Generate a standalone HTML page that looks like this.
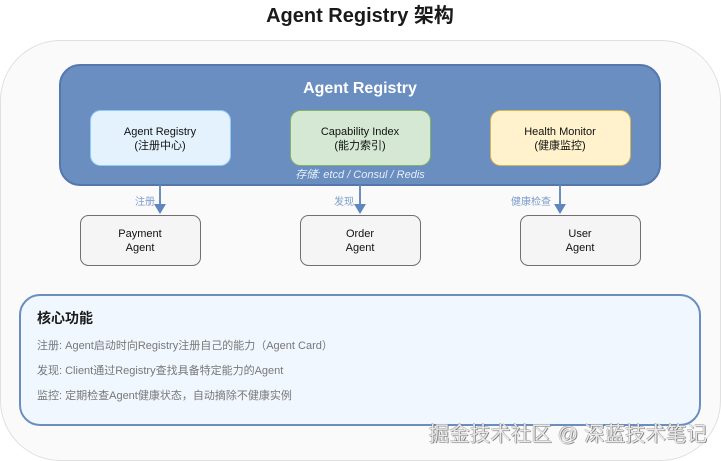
<!DOCTYPE html>
<html lang="zh">
<head>
<meta charset="utf-8">
<style>
html,body{margin:0;padding:0;background:#fff;width:721px;height:461px;overflow:hidden}
body{position:relative;font-family:"Liberation Sans","Noto Sans CJK SC",sans-serif}
svg{display:block;font-family:"Liberation Sans","Noto Sans CJK SC",sans-serif;filter:blur(0.3px)}
#wm{position:absolute;right:14px;top:421px;font-size:20.5px;line-height:27px;white-space:nowrap;color:#e9e9e9;text-shadow:0.7px 0.7px 0.6px #666,-0.4px -0.4px 0.4px #999}
</style>
</head>
<body>
<svg width="721" height="461" viewBox="0 0 721 461" xmlns="http://www.w3.org/2000/svg">
<rect width="721" height="461" fill="#fff"/>
<text x="360" y="22" font-size="20" font-weight="bold" text-anchor="middle" fill="#1a1a1a">Agent Registry 架构</text>
<rect x="0.5" y="40.5" width="720" height="420" rx="60" ry="60" fill="#fafafa" stroke="#e0e0e0" stroke-width="1"/>

<rect x="60" y="65" width="600" height="120" rx="20" ry="20" fill="#6a8ebf" stroke="#5478ac" stroke-width="2"/>
<text x="360" y="93" font-size="16" font-weight="bold" text-anchor="middle" fill="#fff">Agent Registry</text>

<rect x="90.5" y="110.5" width="140" height="55" rx="10" ry="10" fill="#e3f2fd" stroke="#90caf9"/>
<text x="160" y="135" font-size="11" text-anchor="middle" fill="#111">Agent Registry</text>
<text x="160" y="149" font-size="11" text-anchor="middle" fill="#111">(注册中心)</text>

<rect x="290.5" y="110.5" width="140" height="55" rx="10" ry="10" fill="#d5e8d4" stroke="#82b366"/>
<text x="360" y="135" font-size="11" text-anchor="middle" fill="#111">Capability Index</text>
<text x="360" y="149" font-size="11" text-anchor="middle" fill="#111">(能力索引)</text>

<rect x="490.5" y="110.5" width="140" height="55" rx="10" ry="10" fill="#fff2cc" stroke="#d6b656"/>
<text x="560" y="135" font-size="11" text-anchor="middle" fill="#111">Health Monitor</text>
<text x="560" y="149" font-size="11" text-anchor="middle" fill="#111">(健康监控)</text>

<text x="360" y="178" font-size="11" font-style="italic" text-anchor="middle" fill="#e6eefa">存储: etcd / Consul / Redis</text>

<g stroke="#6c8ebf" stroke-width="2" fill="none">
<line x1="160" y1="185" x2="160" y2="206"/>
<line x1="360" y1="185" x2="360" y2="206"/>
<line x1="560" y1="185" x2="560" y2="206"/>
</g>
<g fill="#5f86bd">
<polygon points="154,204 166,204 160,214"/>
<polygon points="354,204 366,204 360,214"/>
<polygon points="554,204 566,204 560,214"/>
</g>
<g font-size="10" text-anchor="end" fill="#7c9cc9">
<text x="155" y="205">注册</text>
<text x="354" y="205">发现</text>
<text x="551" y="205">健康检查</text>
</g>

<g fill="#f5f5f5" stroke="#707070">
<rect x="80.5" y="215.5" width="120" height="50" rx="8" ry="8"/>
<rect x="300.5" y="215.5" width="120" height="50" rx="8" ry="8"/>
<rect x="520.5" y="215.5" width="120" height="50" rx="8" ry="8"/>
</g>
<g font-size="11" text-anchor="middle" fill="#111">
<text x="140" y="237">Payment</text>
<text x="140" y="251">Agent</text>
<text x="360" y="237">Order</text>
<text x="360" y="251">Agent</text>
<text x="580" y="237">User</text>
<text x="580" y="251">Agent</text>
</g>

<rect x="20" y="295" width="680" height="130" rx="20" ry="20" fill="#f0f7ff" stroke="#6c8ebf" stroke-width="2"/>
<text x="37" y="323" font-size="14" font-weight="bold" fill="#1a1a1a">核心功能</text>
<g font-size="11" fill="#777">
<text x="37" y="349">注册: Agent启动时向Registry注册自己的能力（Agent Card）</text>
<text x="37" y="374">发现: Client通过Registry查找具备特定能力的Agent</text>
<text x="37" y="399">监控: 定期检查Agent健康状态，自动摘除不健康实例</text>
</g>
</svg>
<div id="wm">掘金技术社区 @ 深蓝技术笔记</div>
</body>
</html>
